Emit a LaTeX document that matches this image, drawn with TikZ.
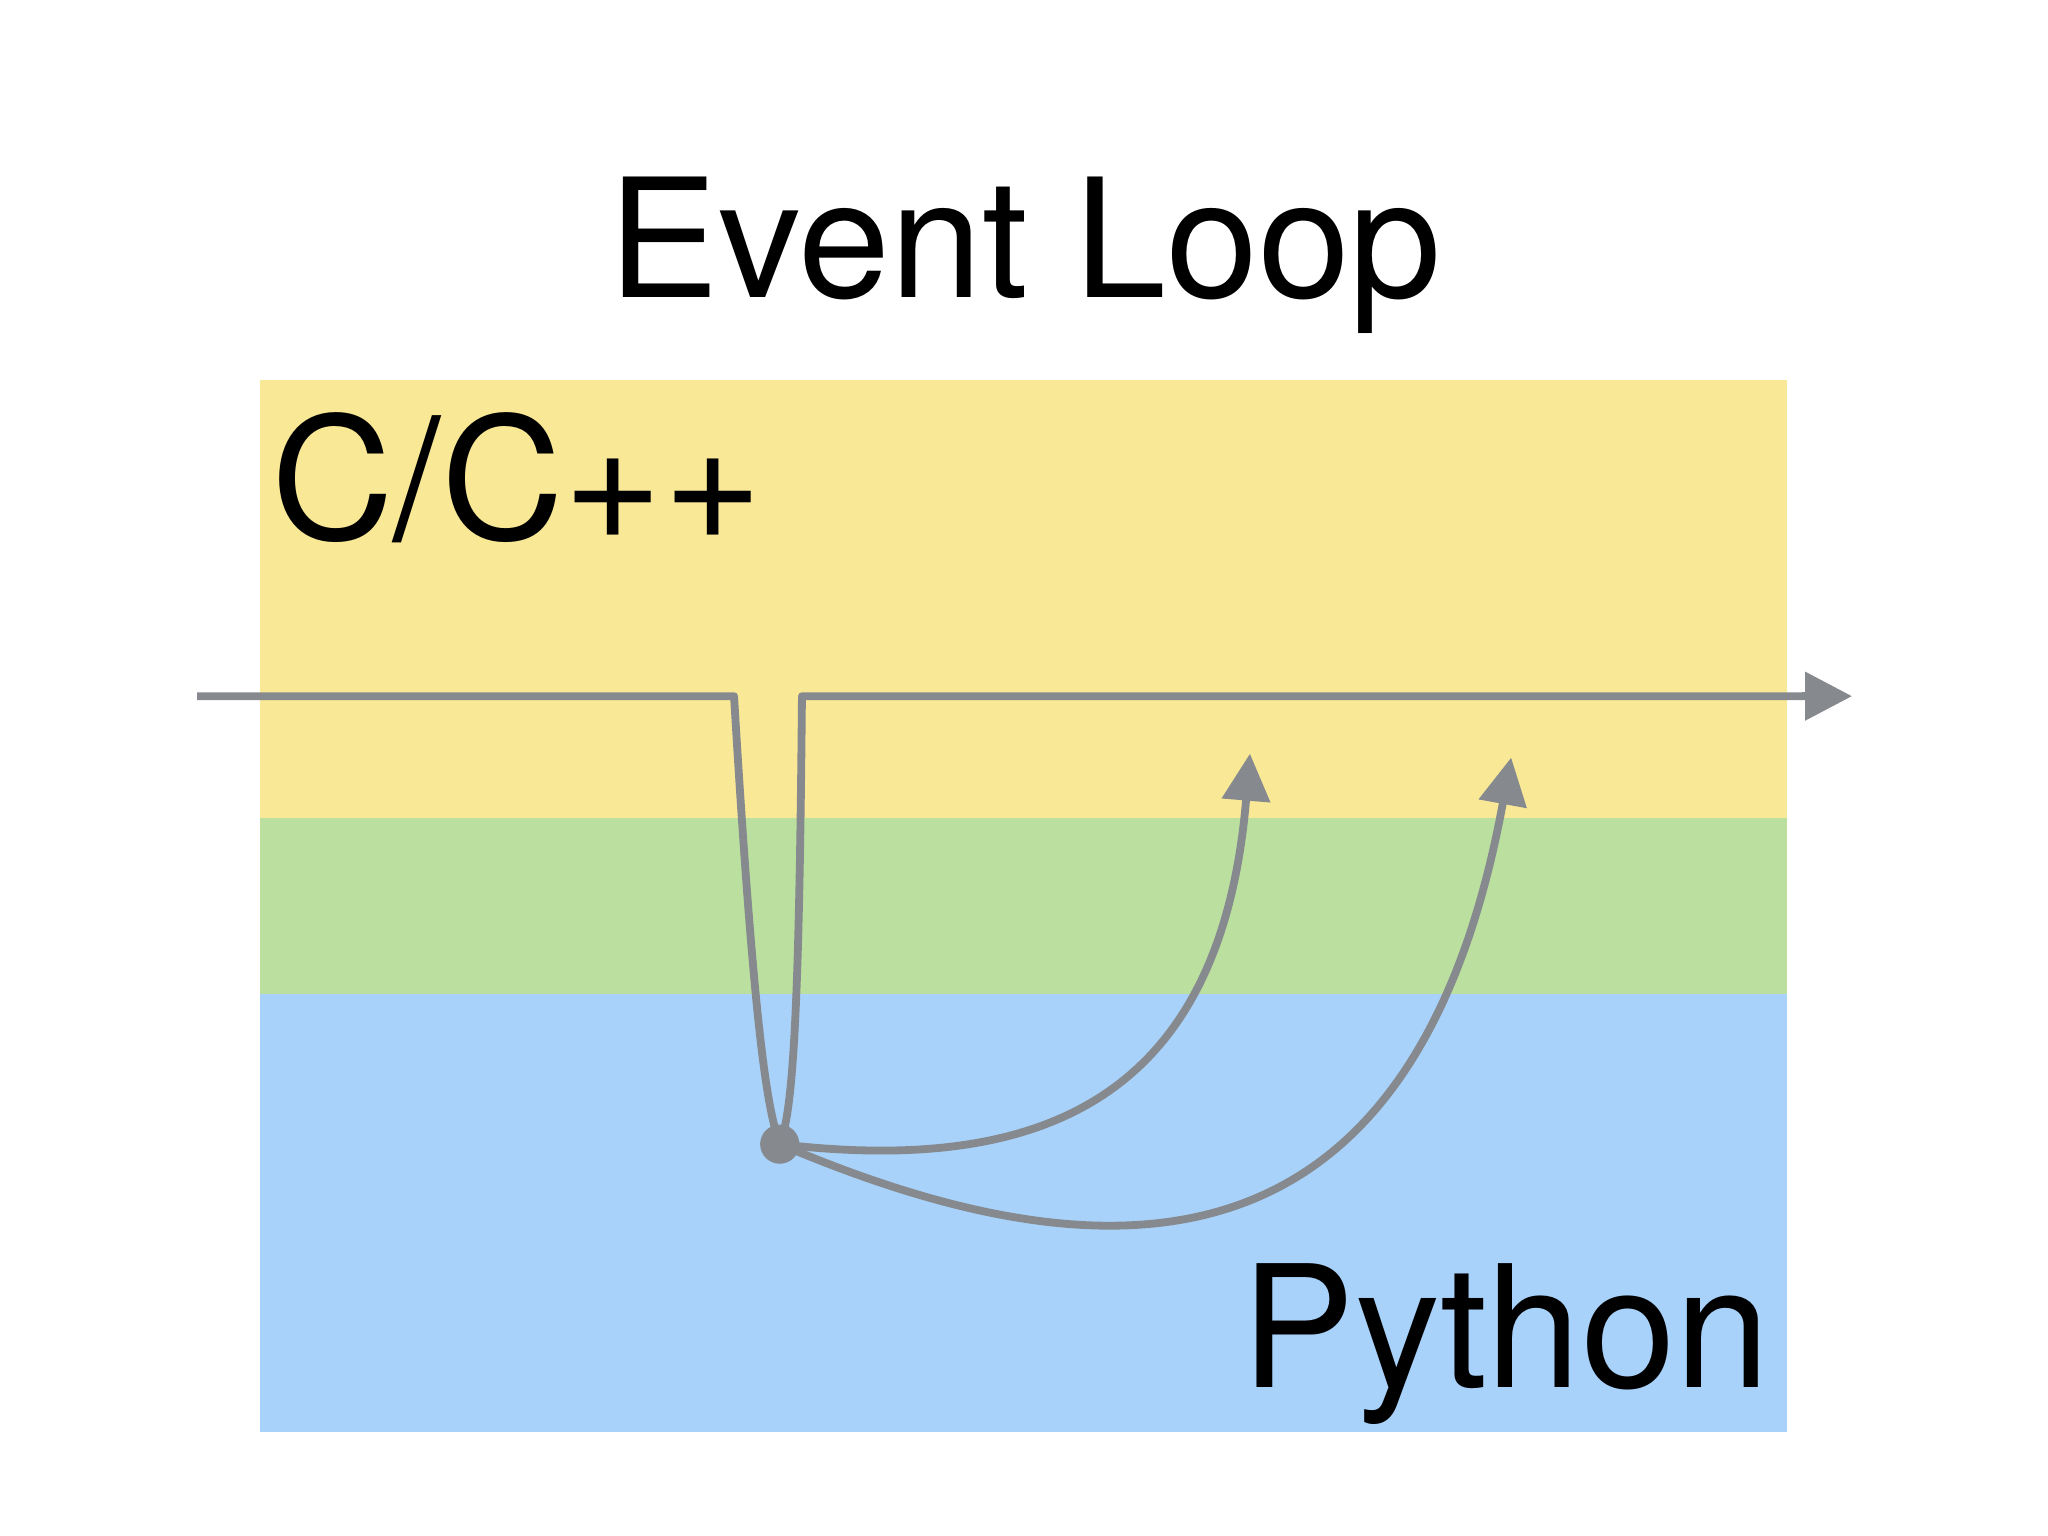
\documentclass[tikz,border=0pt]{standalone}
\usepackage{fontspec}
\setmainfont{TeX Gyre Heros}
\usetikzlibrary{arrows.meta}
\definecolor{cy}{HTML}{F9E896}
\definecolor{cg}{HTML}{BADF9F}
\definecolor{cb}{HTML}{A8D2F9}
\definecolor{ln}{HTML}{868A8F}
\begin{document}
\begin{tikzpicture}[x=0.01cm,y=-0.01cm,
  flow/.style={draw=ln,line width=1.7pt,line join=round},
  tip/.style={-{Triangle[length=0.36cm,width=0.36cm]}}]
\useasboundingbox (0,0) rectangle (1568,1176);
\fill[cy] (199,291) rectangle (1368,626);
\fill[cg] (199,626) rectangle (1368,761);
\fill[cb] (199,761) rectangle (1368,1096);
\node[anchor=base,font=\fontsize{36}{40}\selectfont] (title) at (785,228) {Event Loop};
\node[anchor=base west,font=\fontsize{37}{40}\selectfont,inner sep=0pt] (cc) at (207,413) {C/C++};
\node[anchor=base east,font=\fontsize{37}{40}\selectfont,inner sep=0pt] (py) at (1356,1062) {Python};
\coordinate (s) at (151,533);
\coordinate (a) at (562,533);
\coordinate (b) at (614,533);
\coordinate (e) at (1418,533);
\coordinate (t1) at (957,577);
\coordinate (t2) at (1157,580);
\node[circle,fill=ln,minimum size=0.3cm,inner sep=0pt] (d) at (597,876) {};
\draw[flow] (s) -- (a) .. controls (578,800) and (588,850) .. (d.center)
  .. controls (608,850) and (612,760) .. (b) -- (1385,533);
\draw[flow,tip] (1380,533) -- (e);
\draw[flow,tip] (d.center) .. controls (800,900) and (935,840) .. (t1);
\draw[flow,tip] (d.center) .. controls (830,975) and (1080,1000) .. (t2);
\end{tikzpicture}
\end{document}
